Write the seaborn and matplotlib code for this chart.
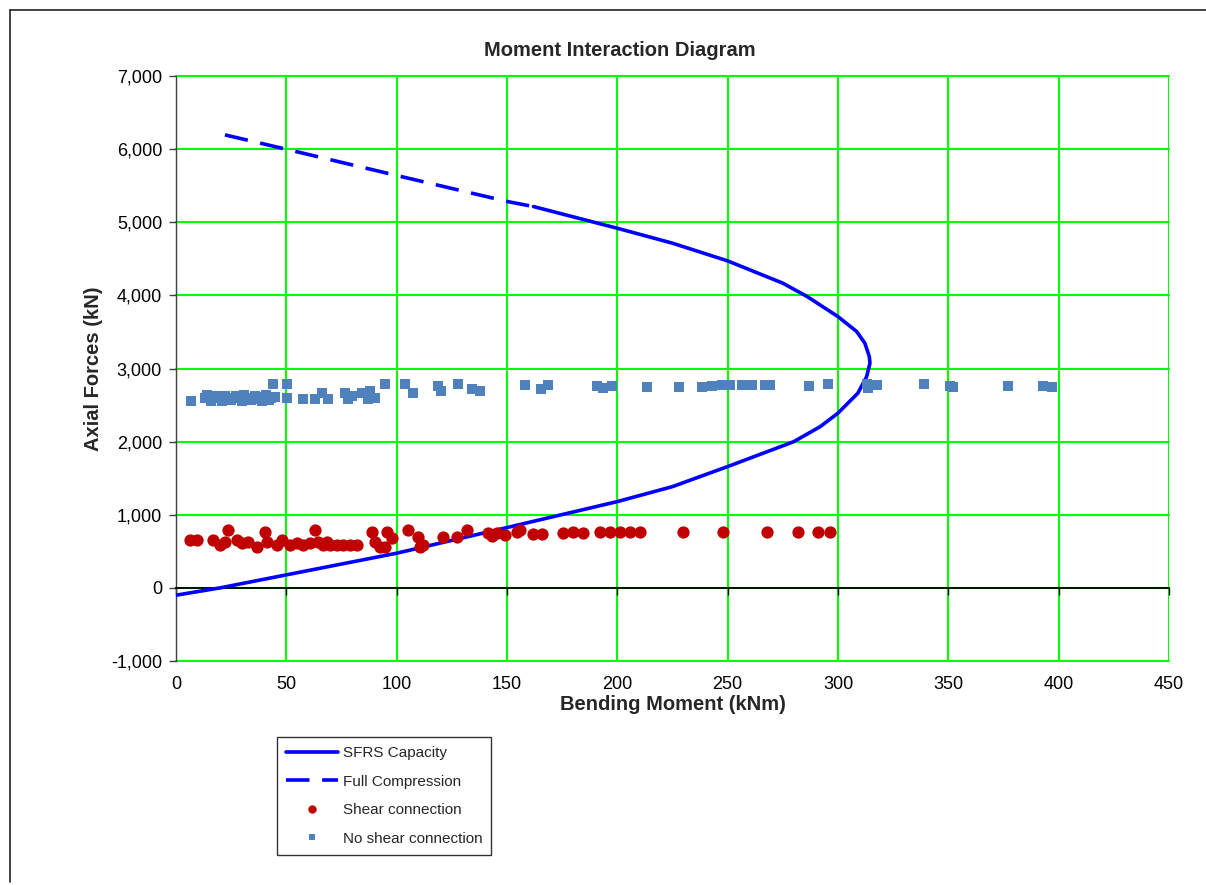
import matplotlib
matplotlib.use("Agg")
import matplotlib.pyplot as plt
from matplotlib.lines import Line2D
from matplotlib.ticker import FuncFormatter
import seaborn as sns

# SFRS capacity curve (bending moment kNm, axial force kN)
capacity_m = [0, 20, 50, 100, 150, 200, 225, 250, 280, 292, 300, 309, 313, 314.5,
              314.2, 312.2, 308.5, 300, 286, 275, 250, 225, 200, 162]
capacity_p = [-100, 0, 178, 474, 825, 1180, 1385, 1659, 2000, 2206, 2390, 2662, 2890, 3073,
              3164, 3346, 3505, 3710, 3985, 4167, 4472, 4714, 4918, 5215]

# Full compression branch
compression_m = [22.2, 50, 100, 150, 162]
compression_p = [6195, 5999, 5640, 5285, 5215]

# Demand points with shear connection
shear_m = [6.3, 9.4, 16.9, 19.9, 22.2, 23.7, 27.5, 29.8, 32.8, 36.6, 40.3, 41.1, 45.6, 47.9,
           51.7, 54.7, 57.7, 60.7, 63.0, 64.5, 66.8, 68.3, 69.8, 72.8, 75.8, 78.9, 81.9,
           88.7, 90.2, 92.4, 94.7, 95.5, 97.7, 105.3, 109.8, 110.6, 112.1, 121.1, 127.2,
           131.7, 141.5, 143.0, 145.3, 149.1, 154.4, 155.9, 161.9, 165.7, 175.5, 180.0,
           184.6, 192.1, 196.7, 201.2, 205.7, 210.3, 229.6, 248.0, 267.7, 282.0, 291.0, 296.4]
shear_p = [656, 656, 656, 588, 633, 793, 656, 611, 633, 565, 770, 633, 588, 656,
           588, 611, 588, 611, 793, 633, 588, 633, 588, 588, 588, 588, 588,
           770, 633, 565, 565, 770, 679, 793, 702, 565, 588, 693, 702,
           793, 752, 706, 752, 729, 761, 793, 743, 743, 756, 761,
           756, 761, 765, 770, 765, 770, 761, 761, 761, 761, 761, 761]

# Demand points without shear connection
noshear_m = [6.8, 13, 14, 16, 18, 20, 21, 22, 24, 25, 27, 29, 30, 31, 33, 34, 36, 37, 39,
             40, 41, 42, 43, 44.1, 45, 50.4, 50.4, 57.4, 63, 66, 69, 76.6, 78, 80, 84.1,
             87.2, 88, 90.2, 94.7, 103.8, 107.5, 118.9, 120, 127.9, 134, 137.8, 158.2,
             165.3, 168.7, 190.6, 193.4, 197.4, 213.3, 228, 238.2, 242.8, 247.3, 251,
             256.4, 260.9, 266.9, 269.2, 287, 295.3, 313, 313.6, 317.5, 339, 350.8,
             352.3, 377.2, 393, 396.8]
noshear_p = [2561, 2600, 2640, 2560, 2630, 2590, 2560, 2630, 2600, 2565, 2620, 2590, 2560,
             2640, 2600, 2570, 2620, 2580, 2560, 2610, 2640, 2570, 2600, 2790, 2610, 2790,
             2598, 2585, 2585, 2662, 2585, 2662, 2585, 2620, 2662, 2585, 2690, 2598, 2790,
             2790, 2667, 2762, 2698, 2785, 2717, 2698, 2776, 2721, 2776, 2766, 2735, 2766,
             2744, 2753, 2753, 2765, 2770, 2770, 2780, 2770, 2775, 2775, 2762, 2790, 2790,
             2740, 2776, 2785, 2762, 2753, 2762, 2762, 2753]

x_ticks = list(range(0, 451, 50))
y_ticks = list(range(-1000, 7001, 1000))

sns.set_theme(style="white")
plt.rcParams["font.family"] = ["Liberation Sans", "DejaVu Sans"]

LINE_BLUE = "#0000FF"
RED = "#C00000"
STEEL = "#4F81BD"
GRID_GREEN = "#00FF00"

fig = plt.figure(figsize=(12.06, 8.85), dpi=100)
fig.patch.set_facecolor("white")
ax = fig.add_axes([0.1459, 0.2531, 0.8234, 0.6610])

ax.set_xlim(0, 450)
ax.set_ylim(-1000, 7000)
ax.set_xticks(x_ticks)
ax.set_yticks(y_ticks)
ax.grid(True, color=GRID_GREEN, linewidth=1.5)
ax.set_axisbelow(True)
for gl in ax.get_xgridlines() + ax.get_ygridlines():
    gl.set_clip_on(False)

# Interaction curves
sns.lineplot(x=capacity_m, y=capacity_p, sort=False, estimator=None, color=LINE_BLUE,
             linewidth=2.6, ax=ax, legend=False, zorder=3)
sns.lineplot(x=compression_m, y=compression_p, sort=False, estimator=None, color=LINE_BLUE,
             linewidth=2.6, linestyle=(0, (6.5, 3.5)), ax=ax, legend=False, zorder=3)

# Demand points
sns.scatterplot(x=shear_m, y=shear_p, color=RED, marker="o", s=78, linewidth=0,
                ax=ax, legend=False, zorder=4)
sns.scatterplot(x=noshear_m, y=noshear_p, color=STEEL, marker="s", s=58, linewidth=0,
                ax=ax, legend=False, zorder=4)

# Axes styling: x axis crosses at zero, labels at the bottom
for side in ("top", "right"):
    ax.spines[side].set_visible(False)
ax.spines["left"].set_color("#404040")
ax.spines["left"].set_linewidth(1.0)
ax.spines["bottom"].set_position(("data", 0))
ax.spines["bottom"].set_color("black")
ax.spines["bottom"].set_linewidth(1.3)
ax.spines["bottom"].set_zorder(2.5)
ax.tick_params(axis="x", direction="out", length=5, width=1, color="black",
               bottom=True, labelbottom=False)
ax.tick_params(axis="y", direction="out", length=5, width=1, color="#404040",
               left=True, labelsize=13, pad=5, labelcolor="black")
ax.yaxis.set_major_formatter(FuncFormatter(lambda v, _: f"{v:,.0f}"))

sec = ax.secondary_xaxis("bottom")
sec.set_xticks(x_ticks)
sec.tick_params(length=0, labelsize=13, pad=11, labelcolor="black")
sec.spines["bottom"].set_visible(False)
sec.set_xlabel("Bending Moment (kNm)", fontsize=14.5, fontweight="bold", labelpad=1)

ax.set_ylabel("Axial Forces (kN)", fontsize=14.5, fontweight="bold", labelpad=6)

fig.text(0.514, 0.9435, "Moment Interaction Diagram", ha="center", va="center",
         fontsize=14.5, fontweight="bold")

# Legend below the plot area
handles = [
    Line2D([], [], color=LINE_BLUE, linewidth=2.6),
    Line2D([], [], color=LINE_BLUE, linewidth=2.6, linestyle=(0, (6.5, 3.5))),
    Line2D([], [], color=RED, marker="o", linestyle="", markersize=6, markeredgewidth=0),
    Line2D([], [], color=STEEL, marker="s", linestyle="", markersize=5, markeredgewidth=0),
]
labels = ["SFRS Capacity", "Full Compression", "Shear connection", "No shear connection"]
leg = fig.legend(handles, labels, loc="upper left", bbox_to_anchor=(277 / 1206, 1 - 737 / 885),
                 frameon=True, fancybox=False, shadow=False, fontsize=11,
                 handlelength=3.4, handletextpad=0.3, labelspacing=0.95, borderpad=0.6,
                 borderaxespad=0, numpoints=1)
leg.get_frame().set_edgecolor("black")
leg.get_frame().set_linewidth(1.0)

# Chart area border
fig.add_artist(Line2D([10 / 1206, 10 / 1206], [3 / 885, 1 - 10 / 885],
                      transform=fig.transFigure, color="#222222", linewidth=1.2))
fig.add_artist(Line2D([10 / 1206, 1.0], [1 - 10 / 885, 1 - 10 / 885],
                      transform=fig.transFigure, color="#222222", linewidth=1.2))

fig.savefig("out.png", dpi=100)
